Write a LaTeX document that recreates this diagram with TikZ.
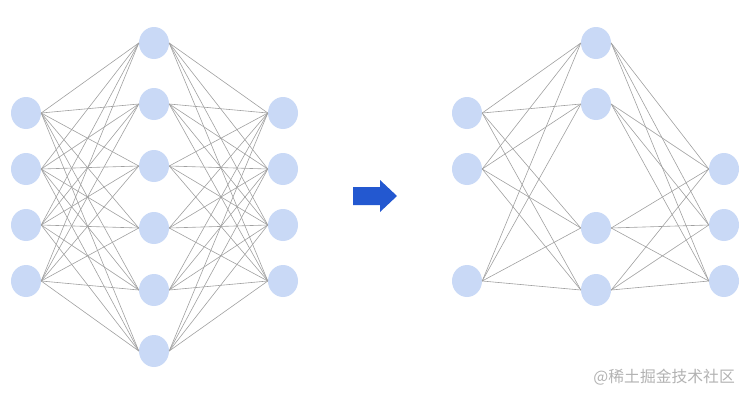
\documentclass[tikz,border=0pt]{standalone}
\usepackage{fontspec}
\newfontfamily\cjkfont{Noto Sans CJK SC}
\usepackage{tikz}
\usetikzlibrary{shapes.geometric}
\definecolor{nodeblue}{HTML}{C9D9F6}
\definecolor{wiregray}{HTML}{A0A0A0}
\definecolor{arrowblue}{HTML}{2358D0}
\definecolor{wmgray}{HTML}{B2B2B2}

\begin{document}
\begin{tikzpicture}[x=1pt,y=-1pt,neuron/.style={ellipse,fill=nodeblue,minimum width=30pt,minimum height=32pt,inner sep=0pt},wire/.style={draw=wiregray,line width=0.6pt}]
\useasboundingbox (0,0) rectangle (749,400);
% full network
\foreach \y [count=\i] in {113,169,225,281} \node[neuron] (a\i) at (26,\y) {};
\foreach \y [count=\i] in {43,104,166,228,290,351} \node[neuron] (b\i) at (154,\y) {};
\foreach \y [count=\i] in {113,169,225,281} \node[neuron] (c\i) at (283,\y) {};
\foreach \i in {1,...,4} \foreach \j in {1,...,6} \draw[wire] (a\i.east)--(b\j.west);
\foreach \j in {1,...,6} \foreach \k in {1,...,4} \draw[wire] (b\j.east)--(c\k.west);
% arrow
\fill[arrowblue] (353,187)--(380,187)--(380,180)--(397,196)--(380,212)--(380,205)--(353,205)--cycle;
% pruned network
\foreach \y [count=\i] in {113,169,281} \node[neuron] (p\i) at (467,\y) {};
\foreach \y [count=\i] in {43,104,228,290} \node[neuron] (q\i) at (596,\y) {};
\foreach \y [count=\i] in {169,225,281} \node[neuron] (r\i) at (724,\y) {};
\foreach \i in {1,...,3} \foreach \j in {1,...,4} \draw[wire] (p\i.east)--(q\j.west);
\foreach \j in {1,...,4} \foreach \k in {1,...,3} \draw[wire] (q\j.east)--(r\k.west);
\node[anchor=east,text=wmgray,font=\cjkfont\fontsize{15.8}{16}\selectfont,inner sep=0pt] (wm) at (735,377) {@稀土掘金技术社区};
\end{tikzpicture}
\end{document}
